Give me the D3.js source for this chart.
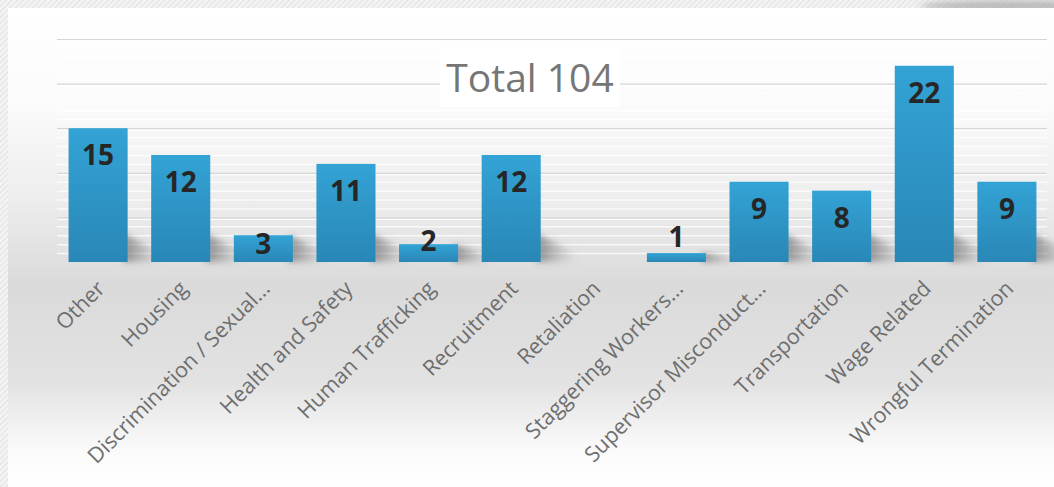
<!DOCTYPE html>
<html>
<head>
<meta charset="utf-8">
<script src="https://cdn.jsdelivr.net/npm/d3@7"></script>
<style>
  body { margin: 0; background: #fff; }
  svg { display: block; font-family: "Open Sans", sans-serif; }
  .catLabel { font-size: 21.5px; fill: #6e6e6e; }
  .valLabel { font-size: 28px; font-weight: bold; fill: #262626; }
  .title { font-size: 39px; fill: #767676; }
</style>
</head>
<body>
<div id="chart"></div>
<script>
// datos del gráfico
const categories = ["Other", "Housing", "Discrimination / Sexual...", "Health and Safety",
    "Human Trafficking", "Recruitment", "Retaliation", "Staggering Workers...",
    "Supervisor Misconduct...", "Transportation", "Wage Related", "Wrongful Termination"]
const values = [15, 12, 3, 11, 2, 12, 0, 1, 9, 8, 22, 9]
const majorTicks = [5, 10, 15, 20, 25]
const titleText = "Total 104"

// ----------------------------------------------------------

const width = 1054
const height = 487
const margin = { top: 39, bottom: 225, left: 57, right: 6 }
const baseY = height - margin.bottom

const svg = d3.select("div#chart").append("svg")
    .attr("width", width)
    .attr("height", height)

const defs = svg.append("defs")

// trama rayada del marco
const hatch = defs.append("pattern").attr("id", "hatch")
    .attr("width", 4).attr("height", 4)
    .attr("patternUnits", "userSpaceOnUse")
    .attr("patternTransform", "rotate(45)")
hatch.append("rect").attr("width", 4).attr("height", 4).attr("fill", "#f3f3f3")
hatch.append("line").attr("x1", 0).attr("y1", 0).attr("x2", 0).attr("y2", 4)
    .attr("stroke", "#dcdcdc").attr("stroke-width", 1.5)

// degradado del fondo
const bgGrad = defs.append("linearGradient").attr("id", "bgGrad")
    .attr("x1", 0).attr("y1", 0).attr("x2", 0).attr("y2", 1)
const bgStops = [[0, "#ffffff"], [0.2, "#fbfbfb"], [0.4, "#ededed"], [0.58, "#dadada"],
    [0.78, "#e2e2e2"], [0.92, "#fafafa"], [1, "#ffffff"]]
bgStops.forEach(s => bgGrad.append("stop").attr("offset", s[0]).attr("stop-color", s[1]))

// degradado de las barras
const barGrad = defs.append("linearGradient").attr("id", "barGrad")
    .attr("x1", 0).attr("y1", 0).attr("x2", 0).attr("y2", 1)
barGrad.append("stop").attr("offset", 0).attr("stop-color", "#33a3d5")
barGrad.append("stop").attr("offset", 1).attr("stop-color", "#2987b6")

// degradado de la sombra
const shGrad = defs.append("linearGradient").attr("id", "shGrad")
    .attr("x1", 0).attr("y1", 0).attr("x2", 1).attr("y2", 0)
shGrad.append("stop").attr("offset", 0).attr("stop-color", "#505050").attr("stop-opacity", 0.6)
shGrad.append("stop").attr("offset", 1).attr("stop-color", "#888").attr("stop-opacity", 0)

defs.append("filter").attr("id", "blur").attr("x", "-50%").attr("y", "-50%")
    .attr("width", "200%").attr("height", "200%")
    .append("feGaussianBlur").attr("stdDeviation", 3)

// marco + tarjeta
svg.append("rect").attr("width", width).attr("height", height).attr("fill", "url(#hatch)")
svg.append("ellipse").attr("cx", 1010).attr("cy", 6).attr("rx", 90).attr("ry", 6)
    .attr("fill", "#bbb").attr("filter", "url(#blur)")
svg.append("rect").attr("x", 8).attr("y", 8).attr("width", width - 8).attr("height", height - 8)
    .attr("fill", "url(#bgGrad)")

const elementGroup = svg.append("g").attr("id", "elementGroup")

// escalas
const scaleX = d3.scaleBand().domain(categories)
    .range([margin.left, width - margin.right])
    .paddingInner(0.285).paddingOuter(0.14)
const scaleY = d3.scaleLinear().domain([0, 25]).range([baseY, margin.top])

// líneas de rejilla: menores cada unidad, mayores cada 5
const minorTicks = d3.range(1, 25).filter(t => !majorTicks.includes(t))
elementGroup.selectAll("line.minor").data(minorTicks).enter().append("line")
    .attr("class", "minor")
    .attr("x1", margin.left).attr("x2", width - margin.right - 1)
    .attr("y1", d => scaleY(d) + 0.5).attr("y2", d => scaleY(d) + 0.5)
    .attr("stroke", "#ffffff").attr("stroke-opacity", 0.75).attr("stroke-width", 1.5)
elementGroup.selectAll("line.major").data(majorTicks).enter().append("line")
    .attr("class", "major")
    .attr("x1", margin.left).attr("x2", width - margin.right - 1)
    .attr("y1", d => scaleY(d) + 0.5).attr("y2", d => scaleY(d) + 0.5)
    .attr("stroke", "#d6d6d6").attr("stroke-width", 1.2)
elementGroup.selectAll("line.majorHi").data(majorTicks).enter().append("line")
    .attr("class", "majorHi")
    .attr("x1", margin.left).attr("x2", width - margin.right - 1)
    .attr("y1", d => scaleY(d) + 2).attr("y2", d => scaleY(d) + 2)
    .attr("stroke", "#ffffff").attr("stroke-width", 1)

const data = categories.map((c, i) => ({ name: c, value: values[i] }))

// sombras al pie de cada barra
elementGroup.selectAll("path.shadow").data(data.filter(d => d.value > 0)).enter().append("path")
    .attr("class", "shadow")
    .attr("d", d => {
        const x0 = scaleX(d.name) + scaleX.bandwidth() - 4
        const h = Math.min(baseY - scaleY(d.value), 28)
        return `M${x0},${baseY - h} L${x0 + 40},${baseY - h * 0.35} L${x0 + 40},${baseY} L${x0},${baseY} Z`
    })
    .attr("fill", "url(#shGrad)")
    .attr("filter", "url(#blur)")

// barras
elementGroup.selectAll("rect.bar").data(data).enter().append("rect")
    .attr("class", "bar")
    .attr("x", d => scaleX(d.name))
    .attr("y", d => scaleY(d.value))
    .attr("width", scaleX.bandwidth())
    .attr("height", d => baseY - scaleY(d.value))
    .attr("fill", "url(#barGrad)")

// valores
elementGroup.selectAll("text.valLabel").data(data.filter(d => d.value > 0)).enter().append("text")
    .attr("class", "valLabel")
    .attr("text-anchor", "middle")
    .attr("x", d => scaleX(d.name) + scaleX.bandwidth() / 2)
    .attr("y", d => {
        const h = baseY - scaleY(d.value)
        return scaleY(d.value) + Math.min(37, 1.4 * h - 18.5)
    })
    .text(d => d.value)

// etiquetas del eje x
elementGroup.selectAll("text.catLabel").data(data).enter().append("text")
    .attr("class", "catLabel")
    .attr("text-anchor", "end")
    .attr("transform", d => `translate(${scaleX(d.name) + scaleX.bandwidth() / 2 + 8}, ${baseY + 28}) rotate(-45)`)
    .text(d => d.name)

// título
const titleG = svg.append("g").attr("id", "title")
titleG.append("rect").attr("x", 440).attr("y", 47).attr("width", 180).attr("height", 60)
    .attr("fill", "#ffffff")
titleG.append("text").attr("class", "title")
    .attr("x", 530).attr("y", 92).attr("text-anchor", "middle")
    .text(titleText)
</script>
</body>
</html>
